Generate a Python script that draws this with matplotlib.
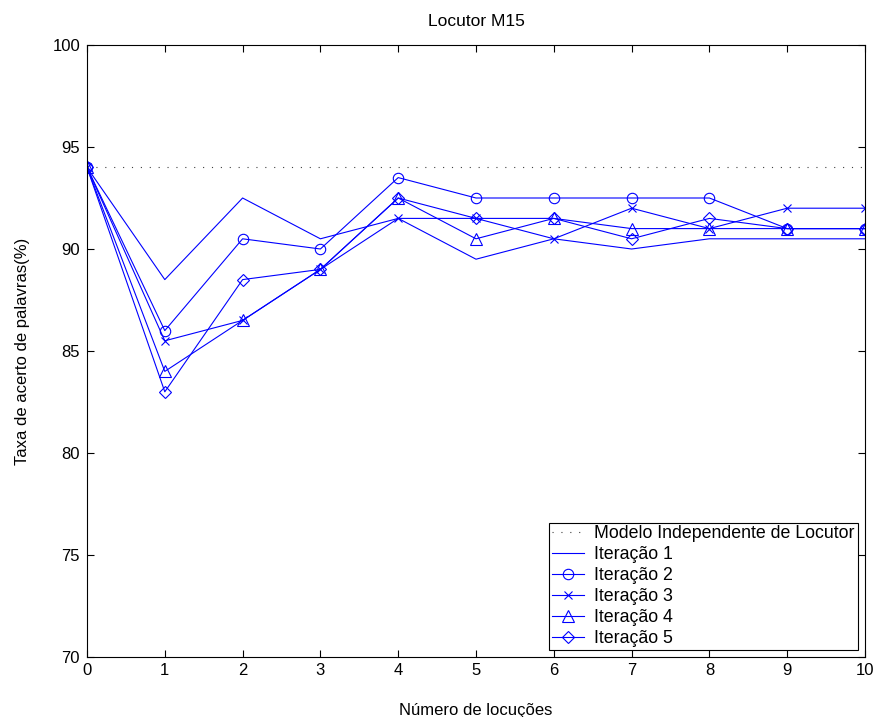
import matplotlib
matplotlib.use("Agg")
import matplotlib.pyplot as plt

plt.rcParams['font.family'] = ['Liberation Sans', 'DejaVu Sans']
plt.rcParams['font.size'] = 12

locucoes = [0, 1, 2, 3, 4, 5, 6, 7, 8, 9, 10]
modelo_independente = 94.0
iteracao1 = [94.0, 88.5, 92.5, 90.5, 91.5, 89.5, 90.5, 90.0, 90.5, 90.5, 90.5]
iteracao2 = [94.0, 86.0, 90.5, 90.0, 93.5, 92.5, 92.5, 92.5, 92.5, 91.0, 91.0]
iteracao3 = [94.0, 85.5, 86.5, 89.0, 91.5, 91.5, 90.5, 92.0, 91.0, 92.0, 92.0]
iteracao4 = [94.0, 84.0, 86.5, 89.0, 92.5, 90.5, 91.5, 91.0, 91.0, 91.0, 91.0]
iteracao5 = [94.0, 83.0, 88.5, 89.0, 92.5, 91.5, 91.5, 90.5, 91.5, 91.0, 91.0]

fig = plt.figure(figsize=(8.77, 7.17), dpi=100)
ax = fig.add_axes([87/877, 1 - 657/717, (865-87)/877, (657-45)/717])

ax.plot(locucoes, [modelo_independente]*len(locucoes), color='0.25',
        linestyle=(0, (1, 7)), lw=0.8, label='Modelo Independente de Locutor')
ax.plot(locucoes, iteracao1, color='blue', lw=0.8, label='Iteração 1')
ax.plot(locucoes, iteracao2, color='blue', lw=0.8, marker='o', ms=7.5,
        mfc='none', mew=0.8, label='Iteração 2')
ax.plot(locucoes, iteracao3, color='blue', lw=0.8, marker='x', ms=6,
        mew=0.8, label='Iteração 3')
ax.plot(locucoes, iteracao4, color='blue', lw=0.8, marker='^', ms=8,
        mfc='none', mew=0.8, label='Iteração 4')
ax.plot(locucoes, iteracao5, color='blue', lw=0.8, marker='D', ms=6,
        mfc='none', mew=0.8, label='Iteração 5')

ax.set_xlim(0, 10)
ax.set_ylim(70, 100)
ax.set_xticks(range(0, 11))
ax.set_yticks(range(70, 101, 5))
ax.tick_params(direction='in', top=True, right=True, length=5, width=0.8)
ax.tick_params(axis='x', pad=4)
ax.tick_params(axis='y', pad=5)
for s in ax.spines.values():
    s.set_linewidth(0.8)

ax.set_title('Locutor M15', fontsize=12.5, pad=14)
ax.set_xlabel('Número de locuções', labelpad=18)
ax.set_ylabel('Taxa de acerto de palavras(%)', labelpad=16)

leg = ax.legend(loc='lower right', fancybox=False, edgecolor='black',
                framealpha=1, fontsize=12.8, handlelength=1.8,
                labelspacing=0.22, borderaxespad=0.42, borderpad=0.15,
                handletextpad=0.6)
leg.get_frame().set_linewidth(0.8)

fig.savefig('out.png', dpi=100)
